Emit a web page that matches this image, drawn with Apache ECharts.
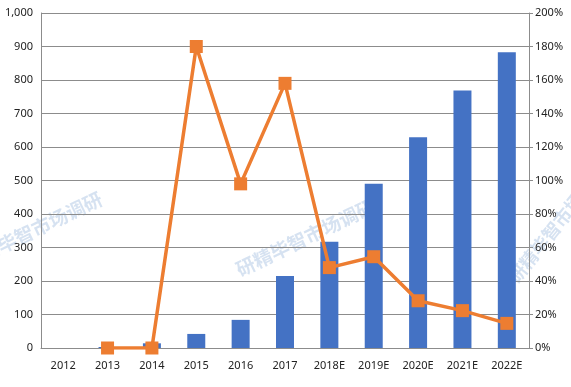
<!DOCTYPE html>
<html><head><meta charset="utf-8">
<script src="https://cdn.jsdelivr.net/npm/echarts@6/dist/echarts.min.js"></script>
<style>html,body{margin:0;padding:0;background:#fff}#c{width:571px;height:387px}</style>
</head><body><div id="c"></div>
<script>
var categories = ['2012','2013','2014','2015','2016','2017','2018E','2019E','2020E','2021E','2022E'];
var barValues = [null, 3, 14, 42, 84, 215, 317, 490, 629, 769, 883];
var rateValues = [null, 0, 0, 180, 98, 158, 48, 54.5, 28.2, 22.3, 14.7];
var leftTicks = {min: 0, max: 1000, interval: 100};
var rightTicks = {min: 0, max: 200, interval: 20};

var chart = echarts.init(document.getElementById('c'));
var font = 'Noto Sans';
chart.setOption({
  animation: false,
  grid: {left: 41, right: 42, top: 13, bottom: 39},
  graphic: [
    {type:'text', x: -40, y: 255, rotation: 0.45, z: 0, style:{text:'研精毕智市场调研', fill:'rgba(120,160,210,0.3)', font:'bold 19px "Noto Sans CJK SC"'}},
    {type:'text', x: 233, y: 262, rotation: 0.45, z: 0, style:{text:'研精毕智市场调研', fill:'rgba(120,160,210,0.3)', font:'bold 19px "Noto Sans CJK SC"'}},
    {type:'text', x: 505, y: 275, rotation: 0.9, z: 0, style:{text:'研精毕智市场调研', fill:'rgba(120,160,210,0.3)', font:'bold 18px "Noto Sans CJK SC"'}}
  ],
  xAxis: {
    type: 'category', data: categories,
    axisLine: {lineStyle: {color: '#8c8c8c', width: 1}},
    axisTick: {show: false},
    axisLabel: {color: '#222', fontFamily: font, fontSize: 11, margin: 12, interval: 0}
  },
  yAxis: [
    {type: 'value', min: leftTicks.min, max: leftTicks.max, interval: leftTicks.interval,
     axisLine: {show: true, lineStyle: {color: '#8c8c8c'}},
     axisTick: {show: false},
     splitLine: {lineStyle: {color: '#8c8c8c', width: 1}},
     axisLabel: {color: '#222', fontFamily: font, fontSize: 11, margin: 8,
       formatter: function(v){ return v.toLocaleString('en-US'); }}},
    {type: 'value', min: rightTicks.min, max: rightTicks.max, interval: rightTicks.interval,
     position: 'right',
     axisLine: {show: true, lineStyle: {color: '#8c8c8c'}},
     axisTick: {show: true, length: 4, lineStyle: {color: '#8c8c8c'}},
     splitLine: {show: false},
     axisLabel: {color: '#222', fontFamily: font, fontSize: 11, margin: 6, formatter: '{value}%'}}
  ],
  series: [
    {type: 'bar', data: barValues, yAxisIndex: 0, barWidth: 18,
     itemStyle: {color: '#4472C4'}, z: 2},
    {type: 'line', data: rateValues, yAxisIndex: 1, symbol: 'rect', symbolSize: 13,
     lineStyle: {color: '#ED7D31', width: 3.5}, itemStyle: {color: '#ED7D31'}, z: 3}
  ]
});
</script></body></html>
